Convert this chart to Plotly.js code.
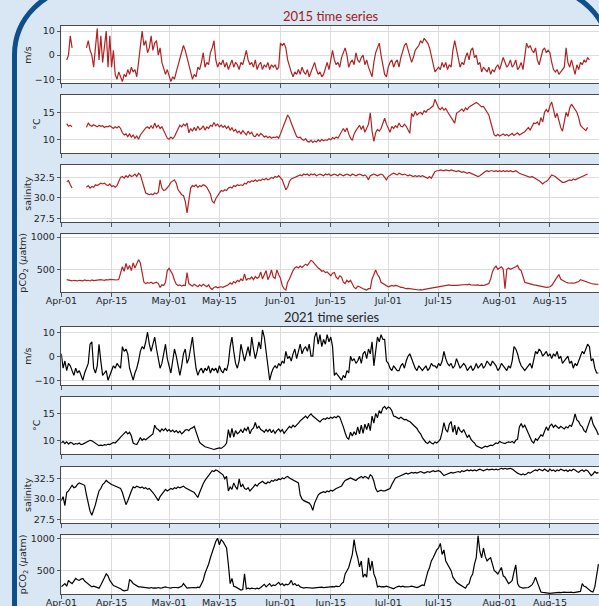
<!DOCTYPE html>
<html><head><meta charset="utf-8">
<script src="https://cdn.plot.ly/plotly-3.0.1.min.js"></script>
<style>
html,body{margin:0;padding:0;width:599px;height:606px;overflow:hidden;background:#d9e6f4;}
#chart{position:absolute;left:0;top:0;width:612px;height:606px;}
#frame{position:absolute;left:11.5px;top:-14px;width:600px;height:700px;box-sizing:border-box;border:5px solid #0d4f8b;border-radius:69px;pointer-events:none;}
</style></head><body>
<div id="chart"></div><div id="frame"></div>
<script>
// ---------------- data (half-day samples starting Apr-01 00:00) ----------------
const tickMonthDays = ['04-01','04-15','05-01','05-15','06-01','06-15','07-01','07-15','08-01','08-15'];
const tickLabels = ['Apr-01','Apr-15','May-01','May-15','Jun-01','Jun-15','Jul-01','Jul-15','Aug-01','Aug-15'];
const panelTitles = ['2015 time series','2021 time series'];
const yLabels = ['m/s','°C','salinity','pCO<sub>2</sub> (<i>μ</i>atm)'];
const windTicks = [-10,0,10], windTickText = ['−10','0','10'];
const tempTicks = [10,15], tempTickText = ['10','15'];
const salTicks = [27.5,30,32.5], salTickText = ['27.5','30.0','32.5'];
const pco2Ticks = [500,1000], pco2TickText = ['500','1000'];

const wind2015 = [
null,null,null,-2,0,8,3,null,null,null,
null,null,null,null,3,6,2,0,-5,4,
11,-2,8,-3,3,10,-5,8,-5,2,
-8,-10,-7,-9,-11,-8,-9,-6,-8,-5,
-7,-6,-9,-3,5,10,4,6,1,3,
8,2,5,6,0,3,-3,-6,-8,-6,
-9,-11,-9,-10,-7,-4,-2,2,4,2,
-1,-5,-7,-10,-8,-9,-5,-6,-3,1,
-5,-3,-4,1,3,6,-2,-5,-3,-4,
-2,-5,-3,-6,-4,-2,-5,-3,-4,-6,
-3,-4,-1,2,-2,-4,-3,-5,-2,-6,
-4,-3,-6,-4,-5,-3,-6,-4,-5,-4,
-6,-5,5,4,5,3,-2,-5,-7,-9,
-7,-8,-6,-8,-5,-7,-8,-6,-9,-7,
-5,-3,-6,-8,-7,-9,-8,-5,-3,-6,
-2,2,-2,-4,-3,-5,-1,1,3,0,
-5,-3,-2,-4,1,-2,-3,-1,0,-4,
-2,-5,-7,-9,-3,1,3,5,0,-5,
-8,-9,-5,-3,-2,-5,-3,-2,-5,-1,
2,4,5,2,0,-3,-1,2,3,4,
6,5,7,6,5,3,0,-4,-7,-6,
-5,-6,-3,-5,-3,-6,-4,-5,2,6,
2,-2,-5,-3,-4,-1,1,-2,2,3,
-1,0,-4,-3,-7,-5,-6,-7,-5,-8,
-6,-7,-5,-4,-6,-3,-1,-3,-5,-4,
-2,-5,-4,-2,-6,-5,-3,-6,-1,5,
3,4,2,1,3,-2,-4,-1,2,3,
1,2,1,-3,-6,-7,-6,-8,-7,-6,
-5,3,-3,-5,-2,-5,-8,-4,-6,-3,
-4,-2,-3,-1,-2,null,null,null,null,null];

const temp2015 = [
null,null,null,12.9,12.4,12.6,12.3,null,null,null,
null,null,null,null,12.2,13.0,12.6,12.4,12.7,12.5,
12.3,12.6,12.4,12.5,12.2,12.4,12.3,12.5,12.2,12.0,
12.3,12.1,12.4,12.0,11.2,10.8,11.0,10.5,11.0,10.4,
10.8,10.2,10.6,10.0,10.8,11.3,11.8,12.1,12.3,12.0,
12.5,12.0,13.0,12.2,12.6,12.0,12.3,11.5,11.0,10.2,
10.0,10.4,10.1,10.5,11.2,12.0,12.6,12.3,12.8,12.5,
13.0,11.2,12.0,11.5,12.2,11.6,12.4,11.8,12.0,12.5,
11.7,12.3,12.0,12.6,12.4,13.1,12.5,12.8,12.3,12.6,
12.2,12.5,12.0,12.4,11.7,12.1,11.5,11.8,11.2,11.5,
11.0,11.6,11.2,10.8,11.5,11.0,11.3,10.6,10.5,11.0,
10.6,11.1,10.8,10.4,10.6,10.3,10.5,10.2,10.4,10.3,
10.5,10.2,11.0,12.0,12.8,13.6,14.5,14.0,13.0,12.2,
11.2,10.5,10.3,10.4,10.0,9.8,10.1,9.6,9.5,9.8,
9.4,9.7,9.5,9.9,9.6,10.0,9.7,9.9,9.8,10.1,
9.9,10.3,10.1,10.4,10.2,10.9,11.6,12.0,11.4,12.1,
11.0,10.2,9.8,11.0,11.6,12.0,12.6,11.8,12.5,11.3,
12.2,12.8,14.9,11.5,9.6,11.2,11.8,11.5,12.0,13.2,
13.9,12.8,12.0,11.3,12.4,12.0,12.5,12.2,13.0,12.4,
12.3,12.8,12.4,11.8,11.1,14.8,14.2,15.2,14.5,14.8,
15.0,14.6,15.3,15.0,15.5,15.6,16.0,16.2,17.4,16.5,
15.8,15.5,15.9,15.4,15.7,15.1,14.6,14.2,13.6,13.0,
14.8,15.0,15.3,15.6,15.2,15.8,15.5,16.0,16.2,16.4,
16.5,16.8,16.6,16.3,16.0,16.1,15.5,15.0,14.5,13.2,
12.0,10.8,10.6,10.9,10.6,10.8,11.0,10.7,10.9,10.6,
10.8,11.1,10.7,10.9,11.2,10.8,11.0,11.3,11.4,11.8,
12.2,11.7,12.5,13.0,12.9,13.2,12.6,14.0,13.2,15.0,
15.5,15.0,16.2,16.9,15.5,14.0,14.8,13.2,12.2,11.5,
13.0,15.0,14.2,15.8,16.5,16.0,15.5,15.0,14.0,12.6,
12.2,11.8,11.6,12.2,null,null,null,null,null,null];

const sal2015 = [
null,null,null,32.0,32.1,31.6,31.2,null,null,null,
null,null,null,null,31.3,31.5,31.2,31.4,31.3,31.6,
31.5,31.7,31.8,31.7,31.8,31.6,31.5,31.7,31.4,31.5,
31.3,31.5,32.0,32.5,32.6,32.4,32.7,32.5,32.8,32.6,
32.7,32.9,32.6,33.0,32.8,32.0,31.2,30.6,30.5,30.4,
30.5,30.4,30.6,30.5,30.7,32.2,31.2,30.9,31.0,31.2,
31.5,31.9,32.1,32.2,31.8,31.0,30.7,30.4,30.3,29.6,
28.2,29.8,31.2,31.5,31.4,31.6,31.3,31.5,31.4,31.6,
31.5,31.3,30.9,30.5,29.6,29.4,29.9,30.3,30.6,30.9,
30.8,31.0,30.9,31.2,31.3,31.2,31.5,31.4,31.6,31.5,
31.6,31.5,31.8,31.7,32.0,31.9,32.1,32.0,32.2,32.0,
32.2,32.1,32.3,32.2,32.4,32.2,32.3,32.5,32.4,32.6,
32.5,32.7,32.5,32.2,31.6,31.0,31.3,32.0,32.3,32.4,
32.5,32.6,32.7,32.8,32.7,32.9,32.8,32.9,32.7,32.9,
32.8,32.9,32.7,32.8,32.9,32.8,32.7,32.9,32.8,32.9,
32.7,32.8,32.9,32.8,32.7,32.9,32.8,32.7,32.8,32.9,
32.8,32.7,32.9,32.8,32.7,32.8,32.9,32.8,32.7,32.8,
32.6,32.2,32.7,32.8,32.9,32.8,32.7,32.8,32.9,32.8,
32.5,32.2,32.6,32.8,32.9,33.0,32.9,32.8,33.0,32.9,
32.8,32.9,32.8,32.7,32.8,32.7,32.6,32.7,32.6,32.7,
32.6,32.7,32.6,32.5,32.4,32.6,32.4,32.8,33.2,33.3,
33.3,33.4,33.3,33.3,33.4,33.3,33.3,33.4,33.3,33.3,
33.2,33.3,33.2,33.1,33.2,33.1,33.0,33.1,33.0,32.9,
32.8,32.7,32.6,32.7,32.9,33.1,33.2,33.3,33.2,33.3,
33.3,33.2,33.3,33.2,33.3,33.2,33.3,33.2,33.3,33.2,
33.3,33.2,33.2,33.3,33.1,33.0,32.9,32.8,32.7,32.6,
32.6,32.5,32.6,32.5,32.4,32.3,32.1,31.9,31.7,31.9,
32.0,32.2,32.5,32.8,32.7,32.6,32.4,32.2,32.0,31.9,
31.9,32.0,32.1,32.2,32.1,32.3,32.2,32.3,32.4,32.5,
32.6,32.7,32.8,32.9,null,null,null,null,null,null];

const pco2_2015 = [
null,null,null,340,330,325,320,330,325,320,
330,325,320,335,325,330,320,335,325,330,
335,330,340,335,330,340,335,345,340,335,
340,335,345,430,540,470,590,500,560,480,
600,520,580,650,600,430,300,280,295,285,
300,280,290,300,280,220,260,250,300,480,
515,460,420,330,270,250,260,240,255,250,
450,280,260,240,270,250,230,260,240,270,
250,230,260,210,190,220,230,215,225,230,
220,230,240,260,290,270,310,290,330,310,
350,320,430,330,360,350,380,340,390,360,
380,460,350,420,480,340,400,490,380,360,
490,420,360,250,200,180,300,350,420,480,
520,540,520,550,530,560,580,560,600,640,
620,580,560,520,500,470,480,450,460,420,
400,440,450,380,350,400,380,300,280,330,
300,330,260,220,200,240,230,210,200,190,
180,200,200,350,430,490,420,380,300,280,
270,250,230,240,250,240,250,245,230,220,
220,210,200,205,200,195,190,185,190,180,
185,180,190,195,200,210,220,225,230,235,
240,235,245,250,260,255,260,250,255,250,
250,255,260,265,270,265,260,270,260,255,
260,255,260,250,255,250,260,265,280,350,
460,520,550,500,520,540,500,200,500,520,
500,510,530,540,560,500,480,400,300,290,
280,270,270,260,255,250,245,240,230,220,
220,225,230,250,300,350,380,420,350,330,
310,300,290,285,280,285,290,300,310,340,
330,320,300,290,285,280,275,270,270,265];

const wind2021 = [
1,-5,-2,-6,-3,-4,-6,-8,-5,-7,
-6,-8,-10,-7,-5,-3,5,6,-5,-7,
-4,5,-2,-8,-7,-6,-10,-8,-6,-4,
-5,-3,-4,-5,4,2,3,1,-5,-8,
-10,-7,-5,-2,2,4,3,6,10,5,
2,5,8,3,-2,-5,-3,1,5,-1,
-4,-7,-2,3,0,-5,-8,-4,1,3,
-3,-1,4,8,1,-5,-8,-6,-5,-7,
-5,-6,-4,-7,-5,-6,-5,-7,-4,-6,
-7,-5,-6,-3,4,8,2,-3,-5,-2,
5,2,-2,1,4,0,8,3,-1,2,
6,3,11,8,2,-4,-10,-7,-5,-4,
-5,-3,-4,-2,-3,2,-1,0,-2,1,
3,-1,2,5,1,3,4,2,5,0,
0,8,10,5,9,4,7,5,9,6,
8,4,-8,-7,-8,-9,-10,-8,-9,-6,
-7,0,-2,-1,-3,-2,0,-3,1,2,
-1,3,1,6,-4,2,8,6,9,7,
7,-2,-3,-5,-6,-4,-5,-6,-6,-4,
-3,-5,-2,0,1,-1,-3,-5,-6,-4,
-5,-6,-5,-4,-6,-5,-3,-4,-4,-5,
-3,-4,-2,2,-1,-3,-4,-3,-5,-4,
-1,-3,-5,-4,-3,-4,-6,-5,-4,-6,
-5,-3,-5,-4,-3,-5,-4,-2,-3,-4,
-2,-3,-4,-6,-5,-3,-4,-5,-6,-4,
-5,-2,4,3,1,-2,-4,-5,-6,-5,
-4,-3,-5,-2,2,1,3,2,0,1,
2,0,1,-1,1,0,2,-1,0,-3,
-2,-1,0,-3,-2,-5,-3,-4,-2,0,
2,1,3,5,4,-2,-1,-5,-7,-7];

const temp2021 = [
9.5,9.8,9.4,9.7,9.3,9.6,9.5,9.2,9.4,9.3,
9.5,9.2,9.3,9.5,9.6,9.8,10.0,9.9,9.7,9.4,
9.2,9.0,9.1,9.0,9.2,9.1,9.3,9.2,9.4,9.6,
9.5,9.8,10.2,10.6,11.0,11.4,11.6,11.2,11.5,10.8,
9.5,9.3,9.2,9.8,10.5,10.0,10.3,10.1,10.4,10.6,
10.9,11.2,12.8,12.2,12.0,11.6,12.1,11.8,12.2,11.7,
12.0,11.6,11.9,11.5,11.8,11.4,11.7,11.2,11.5,11.9,
12.0,11.8,12.2,12.3,12.6,11.5,10.5,9.6,9.3,9.0,
8.8,8.7,8.6,8.5,8.4,8.3,8.4,8.5,8.6,8.5,
8.7,9.0,9.5,12.0,10.5,12.2,10.6,11.8,11.2,11.5,
12.0,11.4,12.2,11.8,12.5,11.2,12.0,12.3,13.3,12.2,
12.6,12.0,11.8,11.5,12.0,11.6,12.1,11.4,11.9,11.3,
11.8,12.1,11.6,12.0,11.3,11.8,12.2,12.6,12.3,12.8,
12.5,12.8,13.2,13.6,14.0,14.2,14.5,14.1,14.6,14.9,
14.5,14.2,14.0,13.6,13.4,13.8,14.0,13.9,14.2,14.0,
14.3,14.1,14.4,14.2,14.5,14.3,13.5,12.5,11.4,10.5,
10.2,11.5,10.8,11.6,11.0,12.5,11.2,12.8,11.3,13.0,
12.0,13.2,11.8,14.5,13.2,15.0,14.2,15.5,15.0,16.0,
16.3,15.8,16.2,16.0,15.5,14.5,14.4,14.2,14.0,14.3,
14.0,13.8,13.9,13.6,13.5,13.2,12.8,12.6,12.2,11.6,
11.2,10.5,10.0,9.6,9.4,9.8,9.5,9.3,9.7,9.5,
9.8,10.2,11.5,13.3,12.0,11.5,13.0,13.5,11.5,12.8,
11.0,12.5,11.8,11.5,12.0,11.2,10.5,11.0,10.2,9.8,
9.5,9.0,8.8,8.6,8.5,8.7,8.9,8.8,9.0,9.1,
9.0,9.3,9.5,9.4,9.8,9.6,9.5,9.4,9.6,9.7,
9.6,9.8,9.5,10.0,10.2,12.5,13.1,12.4,12.8,12.0,
11.5,10.5,9.8,9.5,10.3,10.0,10.5,11.0,10.8,11.5,
12.5,11.8,12.7,13.0,12.4,12.8,12.5,12.2,12.6,12.3,
12.1,12.5,12.3,12.8,12.6,13.5,14.9,13.8,13.5,12.8,
12.5,11.8,11.5,12.5,13.5,14.4,13.0,12.5,11.8,11.0];

const sal2021 = [
29.8,30.3,29.2,30.8,31.0,31.3,31.7,31.4,31.5,31.8,
32.0,31.9,31.8,31.7,30.5,29.5,28.5,28.0,28.6,29.3,
30.2,31.0,31.3,31.8,32.0,32.3,32.1,31.9,31.8,31.7,
31.6,31.5,31.4,31.3,30.8,30.0,29.3,29.8,30.5,31.0,
31.5,31.4,31.6,31.5,31.4,31.5,31.3,31.4,31.2,31.3,
31.1,30.8,30.5,30.2,29.8,30.3,30.6,31.0,31.2,31.0,
31.2,31.3,31.2,31.4,31.3,31.5,31.4,31.5,31.6,31.4,
31.3,31.2,31.1,31.0,30.8,30.5,30.2,30.8,31.5,31.9,
32.3,32.6,33.0,33.3,33.5,33.4,33.6,33.5,33.3,33.2,
33.0,32.5,32.8,31.0,31.5,31.2,32.0,31.5,31.2,32.5,
31.5,31.8,31.3,31.2,31.4,31.0,31.2,31.5,31.8,31.6,
31.9,32.0,32.2,32.0,31.9,32.1,32.0,32.3,32.2,32.4,
32.3,32.5,32.4,32.6,32.5,32.7,32.8,32.6,32.5,32.4,
32.3,32.2,32.0,30.5,30.0,29.8,29.7,29.6,29.5,29.2,
28.6,29.5,30.0,30.5,30.7,30.8,30.9,30.8,31.0,30.9,
31.1,31.0,31.2,31.3,31.4,31.5,31.6,32.0,32.3,32.4,
32.5,32.6,32.5,32.4,32.3,32.5,32.7,32.8,32.6,32.8,
32.7,32.5,33.0,32.8,32.2,31.3,30.9,31.0,31.1,31.0,
31.0,31.1,31.2,31.3,31.8,32.3,32.6,32.7,32.8,33.0,
33.0,33.1,33.2,33.1,33.2,33.3,33.2,33.3,33.2,33.3,
33.4,33.3,33.2,33.3,33.4,33.3,33.4,33.5,33.4,33.5,
33.5,33.4,33.2,32.9,33.0,33.1,33.2,33.3,33.2,33.3,
33.3,33.4,33.3,33.5,33.4,33.5,33.6,33.5,33.6,33.5,
33.6,33.5,33.6,33.7,33.6,33.5,33.6,33.7,33.6,33.7,
33.7,33.6,33.7,33.6,33.7,33.8,33.7,33.8,33.7,33.8,
33.8,33.7,33.5,33.4,33.2,33.1,33.0,33.1,33.0,33.1,
33.3,33.2,33.4,33.5,33.6,33.5,33.7,33.6,33.5,33.7,
33.6,33.4,33.7,33.5,33.6,33.4,33.6,33.5,33.7,33.6,
33.5,33.6,33.4,33.6,33.5,33.7,33.6,33.4,33.3,33.5,
33.6,33.4,33.6,33.5,33.2,32.9,33.1,33.4,33.2,33.3];

const pco2_2021 = [
250,280,300,260,350,320,300,340,380,360,
350,370,380,340,320,300,280,250,260,250,
240,230,280,350,390,450,420,350,300,270,
260,250,230,220,200,190,195,200,360,340,
300,280,260,250,250,245,240,240,235,230,
240,230,235,230,240,230,235,240,250,240,
235,230,240,245,240,235,250,260,300,260,
230,235,240,245,240,235,245,240,300,350,
460,520,600,700,780,880,950,1000,900,980,
950,900,850,600,300,380,260,250,230,210,
200,210,450,220,230,220,230,225,220,230,
220,240,260,290,250,270,300,260,280,270,
300,320,280,300,270,290,280,300,350,280,
300,270,280,250,240,230,240,235,230,235,
230,235,240,235,240,245,240,245,250,245,
250,255,250,260,255,260,300,320,450,510,
550,650,750,980,800,700,560,650,400,450,
400,700,500,650,450,380,250,260,250,255,
250,260,255,240,230,220,240,250,260,250,
260,250,250,245,255,260,250,245,240,250,
260,280,270,400,480,550,650,700,760,820,
850,920,750,820,650,600,550,500,400,350,
320,300,280,270,250,230,280,300,400,450,
600,700,1040,800,700,850,720,650,680,700,
600,500,480,450,500,550,420,400,350,300,
320,350,480,590,300,250,240,230,235,240,
240,260,280,330,400,320,250,170,165,160,
160,155,150,155,160,155,160,165,160,170,
170,165,160,165,170,160,165,170,175,180,
300,260,250,220,200,180,170,250,450,600];

// ---------------- figure ----------------
const W = 612, H = 606;
const HALF_DAY = 43200000;
function timeAxis(year, n){ const t0 = Date.UTC(year,3,1); const out=[]; for(let i=0;i<n;i++) out.push(t0 + i*HALF_DAY); return out; }

const years = [2015, 2021];
const seriesByYear = [[wind2015,temp2015,sal2015,pco2_2015],[wind2021,temp2021,sal2021,pco2_2021]];
const lineColors = ['#b02323','#000000'];
const panelPx = [[26,83.3],[95,153.3],[165,222.3],[234.3,292],[326.7,385],[396.7,454.3],[466.7,523.3],[535.3,594]];
const yRanges = [[-11.7,12.1],[7.4,18.2],[27.05,34.0],[149,1042],[-12,12.3],[7.4,18.1],[27.0,34.0],[140,1046]];
const yTickSets = [[windTicks,windTickText],[tempTicks,tempTickText],[salTicks,salTickText],[pco2Ticks,pco2TickText]];
const xLeft = 61.3, xRight = 607.4;
const labelX = [28, 36.5, 28, 23.5];

const data = [], layout = {
  width: W, height: H, margin:{l:0,r:0,t:0,b:0},
  paper_bgcolor:'rgba(0,0,0,0)', plot_bgcolor:'#ffffff', showlegend:false,
  annotations: []
};
const tickFont = {family:'DejaVu Sans', size:9.5, color:'#262626'};
for (let g=0; g<2; g++) {
  const yr = years[g];
  for (let p=0; p<4; p++) {
    const k = g*4 + p, s = k===0 ? '' : String(k+1);
    const vals = seriesByYear[g][p];
    data.push({type:'scatter', mode:'lines', x: timeAxis(yr, vals.length), y: vals,
      xaxis:'x'+s, yaxis:'y'+s, line:{color:lineColors[g], width:1.2}, connectgaps:false, hoverinfo:'skip'});
    const [top, bot] = panelPx[k];
    layout['xaxis'+s] = {domain:[xLeft/W, xRight/W], anchor:'y'+s, type:'date',
      range:[yr+'-04-01', yr+'-08-31'], tickmode:'array',
      tickvals: tickMonthDays.map(md => yr+'-'+md), ticktext: tickLabels,
      showticklabels: p===3, ticks:'outside', ticklen:3.5, tickwidth:0.8, tickcolor:'#333',
      ticklabelstandoff: -4,
      showgrid:true, gridcolor:'#dcdcdc', gridwidth:1, zeroline:false,
      showline:true, mirror:true, linecolor:'#4a4a4a', linewidth:1, tickfont:tickFont};
    layout['yaxis'+s] = {domain:[1-bot/H, 1-top/H], anchor:'x'+s, range:yRanges[k],
      tickmode:'array', tickvals:yTickSets[p][0], ticktext:yTickSets[p][1],
      ticks:'outside', ticklen:3.5, tickwidth:0.8, tickcolor:'#333',
      showgrid:true, gridcolor:'#dcdcdc', gridwidth:1, zeroline:false,
      showline:true, mirror:true, linecolor:'#4a4a4a', linewidth:1, tickfont:tickFont};
    layout.annotations.push({text:yLabels[p], textangle:-90, xref:'paper', yref:'paper',
      x:labelX[p]/W, y:1-((top+bot)/2)/H, xanchor:'center', yanchor:'middle', showarrow:false,
      font:{family:'DejaVu Sans', size:9.5, color:'#262626'}});
  }
}
layout.annotations.push({text:panelTitles[0], xref:'paper', yref:'paper', x:331/W, y:1-16/H,
  xanchor:'center', yanchor:'middle', showarrow:false, font:{family:'Lato', size:13, color:'#a01a1a'}});
layout.annotations.push({text:panelTitles[1], xref:'paper', yref:'paper', x:332/W, y:1-317/H,
  xanchor:'center', yanchor:'middle', showarrow:false, font:{family:'Lato', size:13, color:'#262626'}});

Plotly.newPlot('chart', data, layout, {staticPlot:true, displayModeBar:false});
</script></body></html>
